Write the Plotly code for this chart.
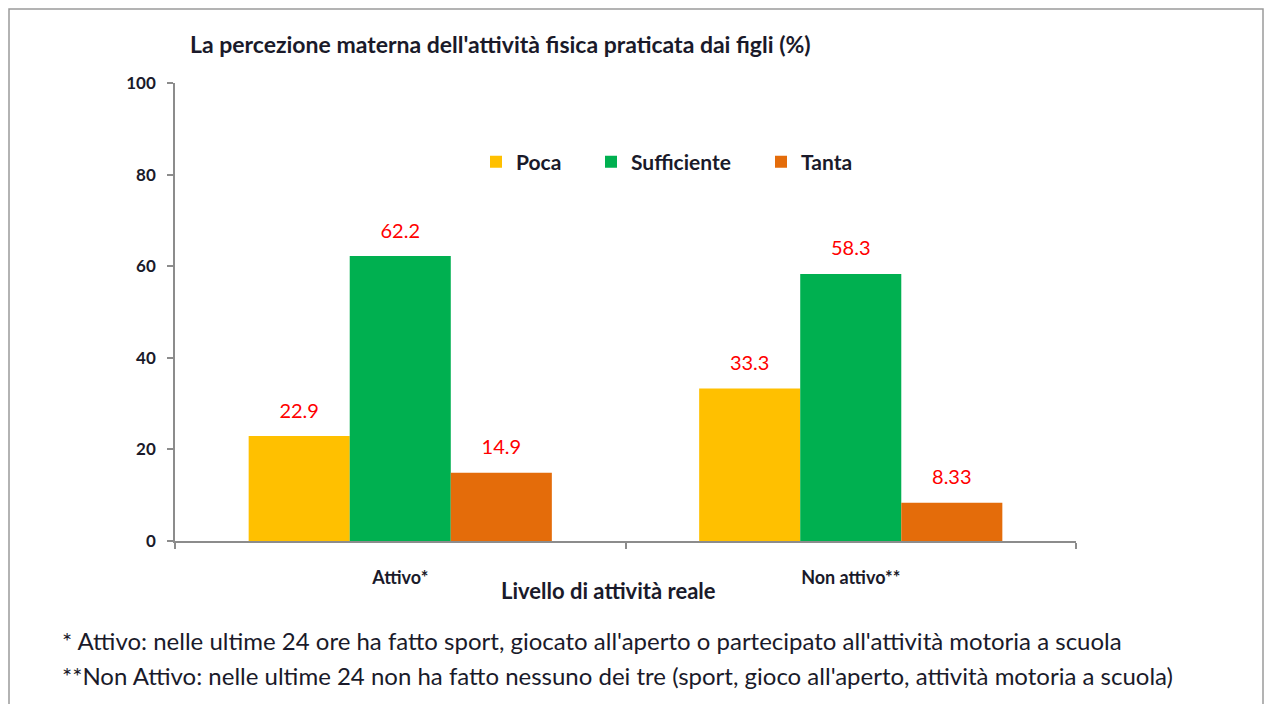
import plotly.graph_objects as go

categories = ['Attivo*', 'Non attivo**']
series_names = ['Poca', 'Sufficiente', 'Tanta']
poca = [22.9, 33.3]
sufficiente = [62.2, 58.3]
tanta = [14.9, 8.33]
labels_poca = ['22.9', '33.3']
labels_sufficiente = ['62.2', '58.3']
labels_tanta = ['14.9', '8.33']
colors = ['#FFC000', '#00B050', '#E46C0A']

FONT = 'Lato, Open Sans, sans-serif'
INK = '#1a1a2a'

# page body has an 8px margin, so keep the figure inside the visible area
W, H = 1257, 696
ML, MR, MT, MB = 167, 189, 75, 163
PW, PH = W - ML - MR, H - MT - MB

# one legend per series so the gaps can follow the original
legend_ids = ['legend', 'legend2', 'legend3']
legend_x = [476, 591, 761]

fig = go.Figure()
for i, (name, vals, col) in enumerate(zip(series_names,
                                          [poca, sufficiente, tanta], colors)):
    fig.add_trace(go.Bar(
        name=name, x=categories, y=vals,
        offsetgroup=str(i), legend=legend_ids[i],
        marker=dict(color=col, line=dict(width=0)),
    ))

# value labels, grouped like the bars
for i, labs, vals in zip(range(3),
                         [labels_poca, labels_sufficiente, labels_tanta],
                         [poca, sufficiente, tanta]):
    fig.add_trace(go.Scatter(
        x=categories, y=vals, text=labs, mode='markers+text',
        offsetgroup=str(i), textposition='top center',
        marker=dict(size=20, opacity=0),
        textfont=dict(color='#FF0000', size=20, family=FONT),
        showlegend=False, hoverinfo='skip', cliponaxis=False,
    ))

legend_style = dict(
    orientation='h', xanchor='left', y=1 - (162 - 83) / PH, yanchor='middle',
    font=dict(size=21, family=FONT, color=INK, weight='bold'),
    bgcolor='rgba(0,0,0,0)', itemwidth=30,
)

fig.update_layout(
    width=W, height=H,
    barmode='group', scattermode='group',
    bargap=0.327, bargroupgap=0, scattergap=0.327,
    plot_bgcolor='white', paper_bgcolor='white',
    font=dict(family=FONT, color=INK),
    margin=dict(l=ML, r=MR, t=MT, b=MB, autoexpand=False),
    title=dict(
        text="<b>La percezione materna dell'attività fisica praticata dai figli (%)</b>",
        x=182 / W, xanchor='left', y=1 - 37 / H, yanchor='middle',
        font=dict(size=23, family=FONT, color=INK),
    ),
    showlegend=True,
    legend=dict(x=(legend_x[0] - 175) / PW, **legend_style),
    legend2=dict(x=(legend_x[1] - 175) / PW, **legend_style),
    legend3=dict(x=(legend_x[2] - 175) / PW, **legend_style),
)

fig.update_yaxes(
    range=[0, 100], dtick=20, showgrid=False, zeroline=False,
    showline=True, linecolor='#8c8c8c', linewidth=1.5,
    ticks='outside', ticklen=6, tickcolor='#8c8c8c', tickwidth=1.5,
    ticklabelstandoff=8,
    tickfont=dict(size=17, family=FONT, color=INK, weight='bold'),
)
fig.update_xaxes(
    showgrid=False, showline=True, linecolor='#8c8c8c', linewidth=1.5,
    ticks='outside', ticklen=6, tickcolor='#8c8c8c', tickwidth=1.5,
    tickson='boundaries', ticklabelstandoff=20,
    tickfont=dict(size=18, family=FONT, color=INK, weight='bold'),
)

# axis title sits close under the tick labels
fig.add_annotation(
    text='<b>Livello di attività reale</b>', xref='paper', yref='paper',
    x=(608 - 175) / PW, y=-(590 - 541) / PH, xanchor='center', yanchor='middle',
    showarrow=False, font=dict(size=22, family=FONT, color=INK),
)

# footnotes
fig.add_annotation(
    text="* Attivo: nelle ultime 24 ore ha fatto sport, giocato all'aperto o partecipato all'attività motoria a scuola",
    xref='paper', yref='paper', x=(60 - 175) / PW, y=-(640 - 541) / PH,
    xanchor='left', yanchor='middle', showarrow=False,
    font=dict(size=24, family=FONT, color=INK),
)
fig.add_annotation(
    text="**Non Attivo: nelle ultime 24 non ha fatto nessuno dei tre (sport, gioco all'aperto, attività motoria a scuola)",
    xref='paper', yref='paper', x=(60 - 175) / PW, y=-(675 - 541) / PH,
    xanchor='left', yanchor='middle', showarrow=False,
    font=dict(size=24, family=FONT, color=INK),
)

# outer frame
fig.add_shape(
    type='rect', xref='paper', yref='paper',
    x0=(1 - ML) / PW, x1=(W - 2 - ML) / PW,
    y0=-(MB + 10) / PH, y1=1 + (MT - 1) / PH,
    line=dict(color='#9a9a9a', width=1.5), fillcolor='rgba(0,0,0,0)',
)

fig.write_html('out.html')
